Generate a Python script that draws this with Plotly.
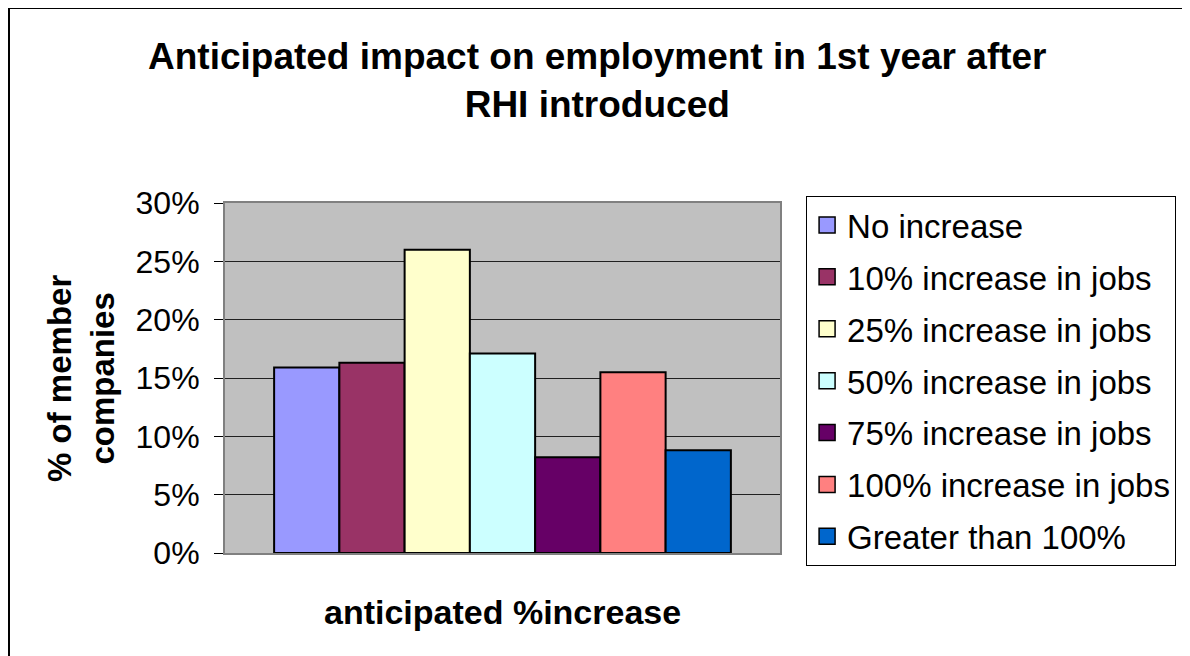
import plotly.graph_objects as go

# data
series_names = [
    "No increase",
    "10% increase in jobs",
    "25% increase in jobs",
    "50% increase in jobs",
    "75% increase in jobs",
    "100% increase in jobs",
    "Greater than 100%",
]
series_values = [0.159, 0.163, 0.260, 0.171, 0.082, 0.155, 0.088]
series_colors = ["#9999FF", "#993366", "#FFFFCC", "#CCFFFF", "#660066", "#FF8080", "#0066CC"]
category = ["anticipated %increase"]

y_ticks = [0, 0.05, 0.10, 0.15, 0.20, 0.25, 0.30]

FONT = "Arial, Liberation Sans, sans-serif"

fig = go.Figure()

for name, val, col in zip(series_names, series_values, series_colors):
    fig.add_trace(go.Bar(
        x=category, y=[val], name=name,
        marker=dict(color=col, line=dict(color="black", width=2)),
        showlegend=False,
    ))

# legend entries with larger square swatches
for name, col in zip(series_names, series_colors):
    fig.add_trace(go.Scatter(
        x=[None], y=[None], name=name, mode="markers", legendgroup=name,
        marker=dict(symbol="square", size=16, color=col, line=dict(color="black", width=1.5)),
    ))

# the page body adds an 8px offset, so the figure is 8px smaller than the window
fig.update_layout(
    width=1182, height=648,
    margin=dict(l=217, r=410, t=195, b=103),
    paper_bgcolor="white",
    plot_bgcolor="#C0C0C0",
    font=dict(family=FONT, color="black", size=32),
    barmode="group",
    bargap=0.177,
    bargroupgap=0,
    showlegend=True,
    legend=dict(
        x=1.047, y=1.02, xanchor="left", yanchor="top",
        bgcolor="white", bordercolor="black", borderwidth=1,
        font=dict(size=33, family=FONT),
        tracegroupgap=6,
        maxheight=500,
    ),
    xaxis=dict(
        type="category", range=[-0.5, 0.5], showticklabels=False, ticks="",
        showline=True, linecolor="#808080", linewidth=2, mirror=True,
        showgrid=False, zeroline=False,
    ),
    yaxis=dict(
        range=[0, 0.30], tickvals=y_ticks, tickformat=".0%",
        ticks="outside", ticklen=9, tickcolor="black", tickwidth=1,
        ticklabelstandoff=8,
        showline=True, linecolor="#808080", linewidth=2, mirror=True,
        showgrid=True, gridcolor="#202020", gridwidth=1, zeroline=False,
        tickfont=dict(size=32),
    ),
    annotations=[
        dict(
            text="<b>Anticipated impact on employment in 1st year after<br>RHI introduced</b>",
            xref="paper", yref="paper", x=0.672, y=1.3486,
            xanchor="center", yanchor="middle", showarrow=False,
            font=dict(size=37, family=FONT),
        ),
        dict(
            text="<b>% of member<br>companies</b>",
            xref="paper", yref="paper", x=-0.2595, y=0.5,
            xanchor="center", yanchor="middle", showarrow=False, textangle=-90,
            font=dict(size=33, family=FONT),
        ),
        dict(
            text="<b>anticipated %increase</b>",
            xref="paper", yref="paper", x=0.5, y=-0.1686,
            xanchor="center", yanchor="middle", showarrow=False,
            font=dict(size=34, family=FONT),
        ),
    ],
    shapes=[
        # outer chart border (only left and top edges fall inside the picture)
        dict(type="rect", xref="paper", yref="paper",
             x0=-0.3892, x1=1.76, y0=-0.32, y1=1.557,
             line=dict(color="black", width=2)),
    ],
)

fig.write_html("out.html")
